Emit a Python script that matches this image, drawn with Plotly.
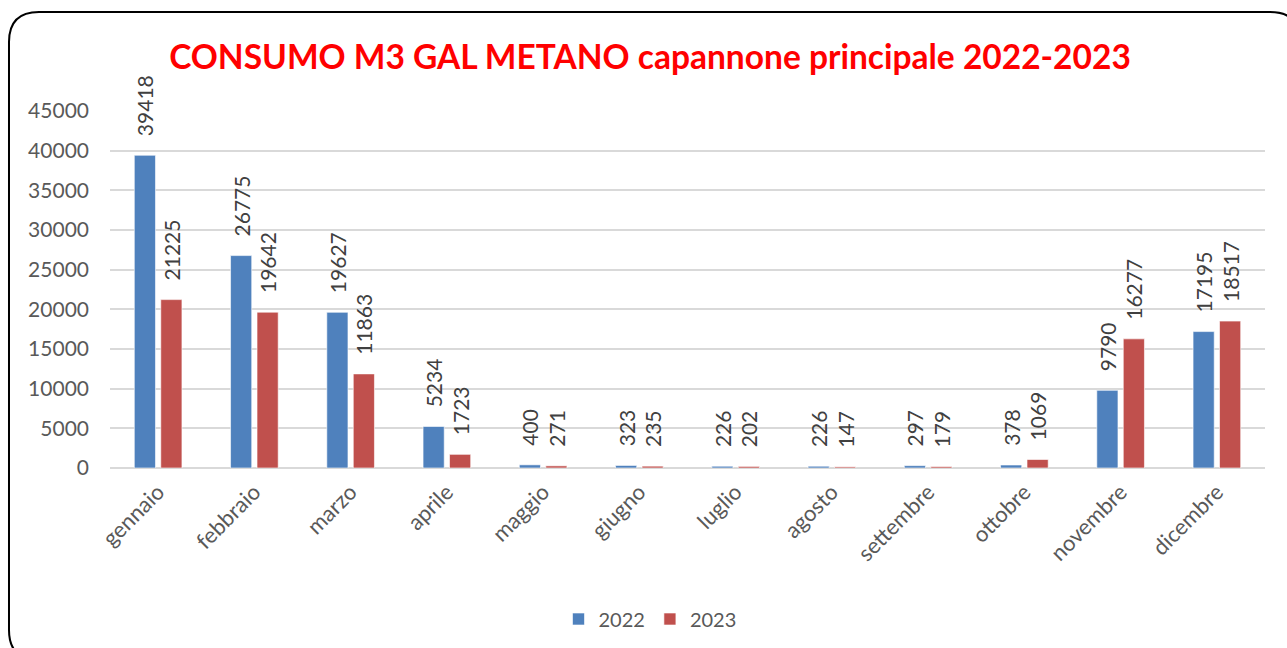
import plotly.graph_objects as go

months = ["gennaio", "febbraio", "marzo", "aprile", "maggio", "giugno",
          "luglio", "agosto", "settembre", "ottobre", "novembre", "dicembre"]
v2022 = [39418, 26775, 19627, 5234, 400, 323, 226, 226, 297, 378, 9790, 17195]
v2023 = [21225, 19642, 11863, 1723, 271, 235, 202, 147, 179, 1069, 16277, 18517]
y_ticks = [0, 5000, 10000, 15000, 20000, 25000, 30000, 35000, 40000, 45000]

W, H = 1287, 648
L, R, T, B = 110, 22, 111, 180
pw, ph = W - L - R, H - T - B

FONT = "Lato, Open Sans, sans-serif"
TXT = "#404040"
PAD = "\u00a0\u00a0\u00a0"

fig = go.Figure()
for name, vals, col in [("2022", v2022, "#4F81BD"), ("2023", v2023, "#C0504D")]:
    fig.add_trace(go.Bar(
        x=months, y=vals, name=name,
        marker=dict(color=col, line=dict(color="rgba(255,255,255,0.6)", width=1)),
        text=[PAD + str(v) for v in vals], textposition="outside", textangle=-90,
        constraintext="none",
        textfont=dict(family=FONT, size=21, color=TXT),
        cliponaxis=False,
    ))

def px2paper(x, y):
    return (x - L) / pw, (H - B - y) / ph

# rounded frame (only the visible part: left edge, top edge, corners)
x0, y0, x1, y1, r = 9, 12, 1300, 660, 30
def P(x, y):
    a, b = px2paper(x, y)
    return f"{a:.5f},{b:.5f}"
path = (f"M {P(x0 + r, y1)} Q {P(x0, y1)} {P(x0, y1 - r)} "
        f"L {P(x0, y0 + r)} Q {P(x0, y0)} {P(x0 + r, y0)} "
        f"L {P(x1 - r, y0)} Q {P(x1, y0)} {P(x1, y0 + r)}")
fig.add_shape(type="path", path=path, xref="paper", yref="paper",
              line=dict(color="black", width=2), fillcolor="rgba(0,0,0,0)",
              layer="above")

lx, ly = px2paper(650, 619)
fig.update_layout(
    width=W, height=H,
    margin=dict(l=L, r=R, t=T, b=B, autoexpand=False),
    paper_bgcolor="white", plot_bgcolor="white",
    barmode="group", bargap=0.45, bargroupgap=0.2,
    title=dict(text="<b>CONSUMO M3 GAL METANO capannone principale 2022-2023</b>",
               x=650 / W, xanchor="center", y=1 - 57 / H, yanchor="middle",
               font=dict(family=FONT, size=33.5, color="#FF0000")),
    legend=dict(orientation="h", x=lx, y=ly, xanchor="center", yanchor="middle",
                font=dict(family=FONT, size=20, color="#595959"),
                itemwidth=30, traceorder="normal"),
    showlegend=True,
)
fig.update_xaxes(tickangle=-45, tickfont=dict(family=FONT, size=22, color="#595959"),
                 showline=False, ticks="", automargin=False, ticklabelstandoff=6)
fig.update_yaxes(range=[0, 45000], tickvals=y_ticks, tickformat="d",
                 tickfont=dict(family=FONT, size=21, color="#595959"),
                 showgrid=True, gridcolor="#D9D9D9", gridwidth=1.5,
                 zeroline=True, zerolinecolor="#D9D9D9", zerolinewidth=1.5,
                 showline=False, ticks="", ticklen=0, automargin=False,
                 ticklabelstandoff=20)

fig.write_html("out.html", config={"displayModeBar": False},
               post_script="document.body.style.margin='0';document.body.style.overflow='hidden';")
